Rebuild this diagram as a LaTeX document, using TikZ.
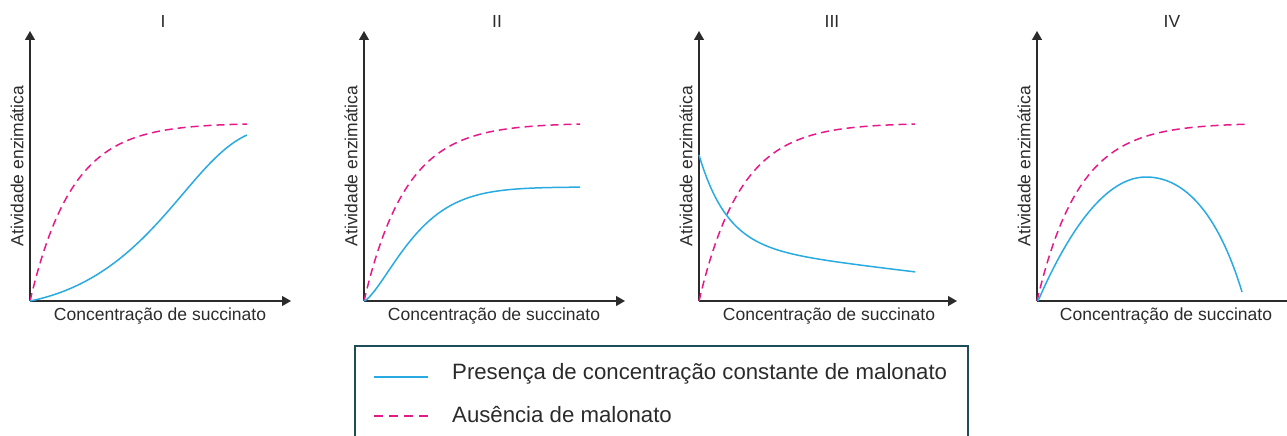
\documentclass[tikz,border=0pt]{standalone}
\usepackage{fontspec}
\setmainfont{Liberation Sans}
\usetikzlibrary{arrows.meta}
\definecolor{axisgray}{HTML}{2B2B2B}
\definecolor{cyanline}{HTML}{29ABE2}
\definecolor{magline}{HTML}{E6198A}
\definecolor{boxteal}{HTML}{1E4D5A}
\begin{document}
\begin{tikzpicture}[x=1pt,y=-1pt,
  axisline/.style={line width=1.3pt, draw=axisgray},
  axisarrow/.style={axisline, -{Triangle[length=9pt,width=10pt]}},
  inhib/.style={draw=cyanline, line width=1.5pt},
  noinhib/.style={draw=magline, line width=1.5pt, dash pattern=on 8pt off 5pt},
  lbl/.style={font=\fontsize{17.5}{20}\selectfont, inner sep=0pt, text=axisgray},
  legtext/.style={font=\fontsize{22.2}{25}\selectfont, inner sep=0pt, anchor=base west, text=axisgray},
  legbox/.style={draw=boxteal, line width=2.5pt}
]
\useasboundingbox (0,0) rectangle (1287,436);
\clip (0,0) rectangle (1287,436);

% axes, titles and labels
\foreach \ox/\t/\n/\len in {30/I/1/261, 364/II/2/261, 699/III/3/258} {
  \coordinate (o\n) at (\ox,301);
  \coordinate (y\n) at (\ox,31);
  \coordinate (x\n) at (\ox+\len,301);
  \draw[axisarrow] (o\n) -- (y\n);
  \draw[axisarrow] (o\n) -- (x\n);
  \node[lbl, anchor=base] (t\n) at (\ox+133,28) {\t};
  \node[lbl, rotate=90] (yl\n) at (\ox-13,166) {Atividade enzimática};
  \node[lbl, anchor=base] (xl\n) at (\ox+130,320) {Concentração de succinato};
}
\coordinate (o4) at (1037,301);
\coordinate (y4) at (1037,31);
\coordinate (x4) at (1295,301);
\draw[axisarrow] (o4) -- (y4);
\draw[axisline] (o4) -- (x4);
\node[lbl, anchor=base] (t4) at (1172,28) {IV};
\node[lbl, rotate=90] (yl4) at (1024,166) {Atividade enzimática};
\node[lbl, anchor=base] (xl4) at (1166,320) {Concentração de succinato};

% Panel I
\draw[noinhib] plot[domain=0:217, samples=80] ({30+\x}, {301-178*(1-exp(-\x/42))});
\draw[inhib] (30,301) .. controls (150,277) and (187,162) .. (247,135);

% Panel II
\draw[noinhib] plot[domain=0:216, samples=80] ({364+\x}, {301-178*(1-exp(-\x/42))});
\draw[inhib] plot[domain=0:216, samples=80] ({364+\x}, {301-114*(1-exp(-(\x/56.7)^1.41))});

% Panel III
\draw[noinhib] plot[domain=0:216, samples=80] ({699+\x}, {301-178*(1-exp(-\x/42))});
\draw[inhib] plot[domain=0:216, samples=80] ({699+\x}, {301-(91*exp(-\x/28)+55-0.12*\x)});

% Panel IV
\draw[noinhib] plot[domain=0:211, samples=80] ({1037+\x}, {301-178*(1-exp(-\x/42))});
\draw[inhib] (1038,301) .. controls (1063,243.5) and (1101,177) .. (1146,177)
                       .. controls (1191,177) and (1222,226) .. (1242,292);

% Legend
\draw[legbox] (355,346) rectangle (968,450);
\coordinate (la1) at (374,377);
\coordinate (lb1) at (428,377);
\coordinate (la2) at (374,416);
\coordinate (lb2) at (428,416);
\draw[inhib, line width=2pt] (la1) -- (lb1);
\draw[noinhib, line width=2pt, dash pattern=on 9pt off 6pt] (la2) -- (lb2);
\node[legtext] (leg1) at (452,379) {Presença de concentração constante de malonato};
\node[legtext] (leg2) at (452,422) {Ausência de malonato};
\end{tikzpicture}
\end{document}
